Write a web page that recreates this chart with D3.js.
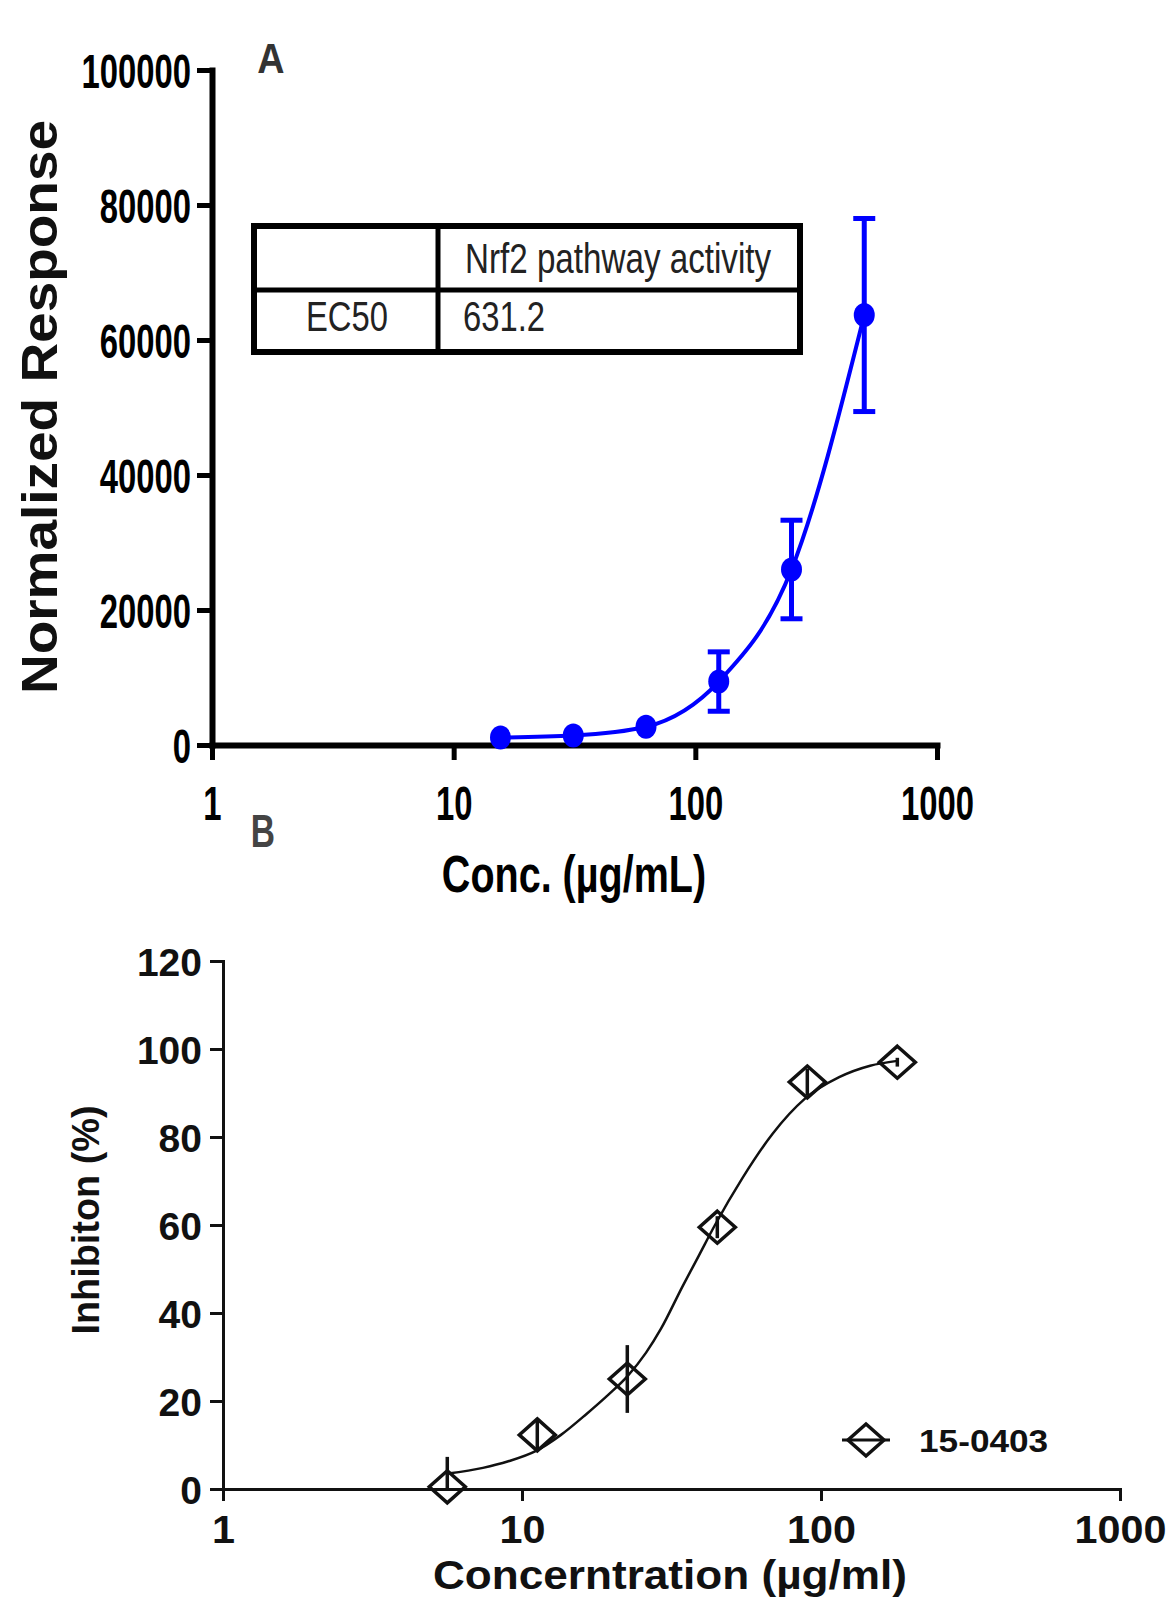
<!DOCTYPE html>
<html>
<head>
<meta charset="utf-8">
<script src="https://cdn.jsdelivr.net/npm/d3@7"></script>
<style>
  html, body { margin: 0; padding: 0; background: #fff; }
  svg { display: block; }
</style>
</head>
<body>
<script>
// ---------- Data: panel A ----------
const concA = [15.625, 31.25, 62.5, 125, 250, 500];
const respA = [1100, 1400, 2700, 9400, 26000, 63700];
const errA  = [500, 500, 800, 4400, 7300, 14300];
const yTicksA = [0, 20000, 40000, 60000, 80000, 100000];
const xTicksA = [1, 10, 100, 1000];
const tableHeader = ["", "Nrf2 pathway activity"];
const tableRow = ["EC50", "631.2"];

// ---------- Data: panel B ----------
const concB  = [5.625, 11.25, 22.5, 45, 90, 180];
const inhibB = [0.5, 12.3, 25.0, 59.5, 92.5, 97.0];
const errB   = [6.8, 3.4, 7.7, 2.5, 3.0, 1.0];
// fitted curve
const curveBx = [5.65, 7.4, 9, 11.1, 13.5, 16.4, 19.5, 22.5, 26, 29.2, 34.4, 39, 44.2, 54.4, 69, 88, 115, 146, 180];
const curveBy = [3.5, 4.8, 6.3, 8.6, 12.3, 17.0, 21.5, 25.6, 31, 36.5, 46, 53, 60, 70.5, 80.8, 88.6, 93.6, 96.2, 97.3];
const yTicksB = [0, 20, 40, 60, 80, 100, 120];
const xTicksB = [1, 10, 100, 1000];
const seriesB = "15-0403";

// ---------- helpers ----------
const W = 1167, H = 1597;
const svg = d3.select("body").append("svg").attr("width", W).attr("height", H);
svg.append("rect").attr("width", W).attr("height", H).attr("fill", "#fff");

const ctx = document.createElement("canvas").getContext("2d");
function natural(text, weight, size) {
  ctx.font = `${weight} ${size}px "Liberation Sans", Arial, sans-serif`;
  return ctx.measureText(text).width;
}
function fit(sel, weight, size, factor) {
  sel.each(function () {
    const t = this.textContent;
    d3.select(this)
      .attr("textLength", natural(t, weight, size) * factor)
      .attr("lengthAdjust", "spacingAndGlyphs");
  });
}
const NARROW = '"Liberation Sans Narrow", "Arial Narrow", "Liberation Sans", Arial, sans-serif';
const SANS = '"Liberation Sans", Arial, sans-serif';

// =================== PANEL A ===================
const xA = d3.scaleLog().domain([1, 1000]).range([212, 937]);
const yA = d3.scaleLinear().domain([0, 100000]).range([745, 70]);

const gxA = svg.append("g").attr("transform", "translate(0,745)")
  .call(d3.axisBottom(xA).tickValues(xTicksA).tickFormat(d3.format("d")).tickSize(15).tickSizeOuter(0));
const gyA = svg.append("g").attr("transform", "translate(212,0)")
  .call(d3.axisLeft(yA).tickValues(yTicksA).tickFormat(d3.format("d")).tickSize(15).tickSizeOuter(0));

[gxA, gyA].forEach(g => {
  g.select(".domain").attr("stroke", "#000").attr("stroke-width", 6).attr("stroke-linecap", "square");
  g.selectAll(".tick line").attr("stroke", "#000").attr("stroke-width", 5);
});
gyA.selectAll(".tick text")
  .attr("x", -21).attr("dy", null).attr("y", 17)
  .style("font-family", NARROW).style("font-weight", "bold").style("font-size", "49px")
  .attr("fill", "#000").call(fit, "bold", 49, 0.67);
gxA.selectAll(".tick text")
  .attr("y", 75).attr("dy", null)
  .style("font-family", NARROW).style("font-weight", "bold").style("font-size", "49px")
  .attr("fill", "#000").call(fit, "bold", 49, 0.67);

// axis titles A
svg.append("text")
  .attr("transform", "translate(57,407) rotate(-90)")
  .attr("text-anchor", "middle")
  .style("font-family", SANS).style("font-weight", "bold").style("font-size", "50px")
  .attr("fill", "#111")
  .text("Normalized Response")
  .attr("textLength", 574).attr("lengthAdjust", "spacingAndGlyphs");

svg.append("text")
  .attr("x", 574).attr("y", 892).attr("text-anchor", "middle")
  .style("font-family", NARROW).style("font-weight", "bold").style("font-size", "52px")
  .attr("fill", "#000")
  .text("Conc. (µg/mL)")
  .call(fit, "bold", 52, 0.76);

// panel label A
svg.append("text")
  .attr("x", 271).attr("y", 73).attr("text-anchor", "middle")
  .style("font-family", SANS).style("font-weight", "bold").style("font-size", "42px")
  .attr("fill", "#333").text("A").call(fit, "bold", 42, 0.9);

// table
const tbl = svg.append("g");
tbl.append("rect").attr("x", 254).attr("y", 226).attr("width", 546).attr("height", 126)
  .attr("fill", "none").attr("stroke", "#000").attr("stroke-width", 6);
tbl.append("line").attr("x1", 438).attr("x2", 438).attr("y1", 226).attr("y2", 352)
  .attr("stroke", "#000").attr("stroke-width", 5);
tbl.append("line").attr("x1", 254).attr("x2", 800).attr("y1", 290).attr("y2", 290)
  .attr("stroke", "#000").attr("stroke-width", 5);
tbl.append("text").attr("x", 465).attr("y", 273)
  .style("font-family", NARROW).style("font-size", "42px").attr("fill", "#222")
  .text(tableHeader[1]).call(fit, "normal", 42, 0.79);
tbl.append("text").attr("x", 347).attr("y", 331).attr("text-anchor", "middle")
  .style("font-family", NARROW).style("font-size", "42px").attr("fill", "#222")
  .text(tableRow[0]).call(fit, "normal", 42, 0.78);
tbl.append("text").attr("x", 463).attr("y", 331)
  .style("font-family", NARROW).style("font-size", "42px").attr("fill", "#222")
  .text(tableRow[1]).call(fit, "normal", 42, 0.78);

// data A
const blue = "#0000ff";
const ptsA = concA.map((c, i) => ({ x: c, y: respA[i], e: errA[i] }));
svg.append("path")
  .datum(ptsA)
  .attr("fill", "none").attr("stroke", blue).attr("stroke-width", 4)
  .attr("d", d3.line().x(d => xA(d.x)).y(d => yA(d.y)).curve(d3.curveMonotoneX));

const ebA = svg.append("g").attr("stroke", blue).attr("stroke-width", 5);
ptsA.forEach(d => {
  const cx = xA(d.x);
  ebA.append("line").attr("x1", cx).attr("x2", cx).attr("y1", yA(d.y + d.e)).attr("y2", yA(d.y - d.e));
  if (d.e > 2000) {
    ebA.append("line").attr("x1", cx - 11).attr("x2", cx + 11).attr("y1", yA(d.y + d.e)).attr("y2", yA(d.y + d.e));
    ebA.append("line").attr("x1", cx - 11).attr("x2", cx + 11).attr("y1", yA(d.y - d.e)).attr("y2", yA(d.y - d.e));
  }
});
svg.append("g").selectAll("ellipse").data(ptsA).join("ellipse")
  .attr("cx", d => xA(d.x)).attr("cy", d => yA(d.y))
  .attr("rx", 10.5).attr("ry", 12).attr("fill", blue);

// =================== PANEL B ===================
const xB = d3.scaleLog().domain([1, 1000]).range([223, 1120]);
const yB = d3.scaleLinear().domain([0, 120]).range([1489, 961]);

const gxB = svg.append("g").attr("transform", "translate(0,1489)")
  .call(d3.axisBottom(xB).tickValues(xTicksB).tickFormat(d3.format("d")).tickSize(12).tickSizeOuter(0));
const gyB = svg.append("g").attr("transform", "translate(223,0)")
  .call(d3.axisLeft(yB).tickValues(yTicksB).tickFormat(d3.format("d")).tickSize(13).tickSizeOuter(0));
[gxB, gyB].forEach(g => {
  g.select(".domain").attr("stroke", "#111").attr("stroke-width", 3).attr("stroke-linecap", "square");
  g.selectAll(".tick line").attr("stroke", "#111").attr("stroke-width", 3);
});
gyB.selectAll(".tick text")
  .attr("x", -21).attr("dy", null).attr("y", 14)
  .style("font-family", SANS).style("font-weight", "bold").style("font-size", "39px")
  .attr("fill", "#111");
gxB.selectAll(".tick text")
  .attr("y", 54).attr("dy", null)
  .style("font-family", SANS).style("font-weight", "bold").style("font-size", "39px")
  .attr("fill", "#111").call(fit, "bold", 39, 1.06);

svg.append("text")
  .attr("transform", "translate(99,1220) rotate(-90)")
  .attr("text-anchor", "middle")
  .style("font-family", SANS).style("font-weight", "bold").style("font-size", "39px")
  .attr("fill", "#111")
  .text("Inhibiton (%)")
  .attr("textLength", 229).attr("lengthAdjust", "spacingAndGlyphs");

svg.append("text")
  .attr("x", 670).attr("y", 1589).attr("text-anchor", "middle")
  .style("font-family", SANS).style("font-weight", "bold").style("font-size", "40px")
  .attr("fill", "#111")
  .text("Concerntration (µg/ml)")
  .attr("textLength", 474).attr("lengthAdjust", "spacingAndGlyphs");

// panel label B
svg.append("text")
  .attr("x", 263).attr("y", 847).attr("text-anchor", "middle")
  .style("font-family", SANS).style("font-weight", "bold").style("font-size", "46px")
  .attr("fill", "#444").text("B").call(fit, "bold", 46, 0.73);

// curve B
const curvePts = curveBx.map((c, i) => ({ x: c, y: curveBy[i] }));
svg.append("path").datum(curvePts)
  .attr("fill", "none").attr("stroke", "#111").attr("stroke-width", 2.5)
  .attr("d", d3.line().x(d => xB(d.x)).y(d => yB(d.y)).curve(d3.curveMonotoneX));

const ptsB = concB.map((c, i) => ({ x: c, y: inhibB[i], e: errB[i] }));
const ebB = svg.append("g").attr("stroke", "#111").attr("stroke-width", 3.5);
ptsB.forEach(d => {
  const cx = xB(d.x);
  ebB.append("line").attr("x1", cx).attr("x2", cx)
    .attr("y1", yB(d.y + d.e)).attr("y2", yB(Math.max(0, d.y - d.e)));
});
const diamond = (cx, cy) => `M${cx},${cy - 16}L${cx + 18},${cy}L${cx},${cy + 16}L${cx - 18},${cy}Z`;
svg.append("g").selectAll("path").data(ptsB).join("path")
  .attr("d", d => diamond(xB(d.x), yB(d.y)))
  .attr("fill", "none").attr("stroke", "#111").attr("stroke-width", 3.5).attr("stroke-linejoin", "miter");

// legend B
const lg = svg.append("g");
lg.append("line").attr("x1", 842).attr("x2", 890).attr("y1", 1440).attr("y2", 1440)
  .attr("stroke", "#111").attr("stroke-width", 3);
lg.append("path").attr("d", diamond(866, 1440))
  .attr("fill", "none").attr("stroke", "#111").attr("stroke-width", 3.5);
lg.append("text").attr("x", 919).attr("y", 1452)
  .style("font-family", SANS).style("font-weight", "bold").style("font-size", "32px")
  .attr("fill", "#111").text(seriesB).call(fit, "bold", 32, 1.1);
</script>
</body>
</html>
